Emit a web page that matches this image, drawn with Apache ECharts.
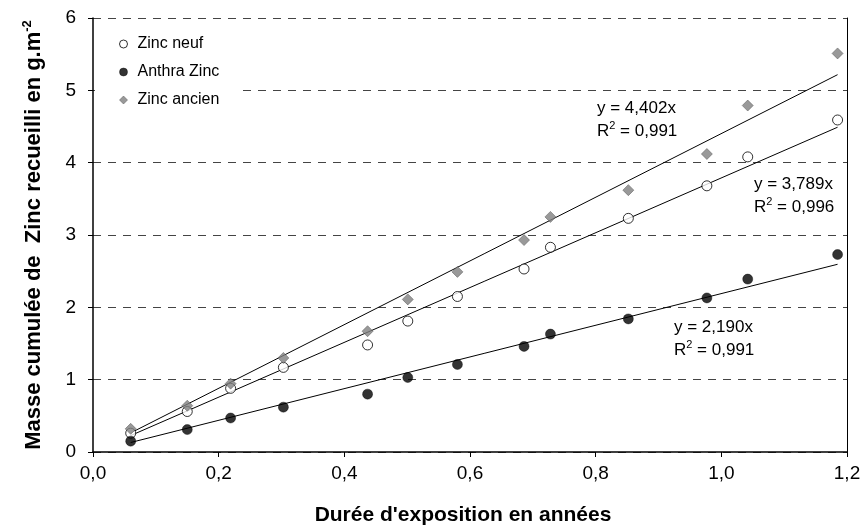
<!DOCTYPE html>
<html>
<head>
<meta charset="utf-8">
<script src="https://cdn.jsdelivr.net/npm/echarts@6/dist/echarts.min.js"></script>
<style>html,body{margin:0;padding:0;background:#fff}#c{width:863px;height:527px}</style>
</head>
<body>
<div id="c"></div>
<script>
// Data
var durations = [0.06, 0.15, 0.219, 0.303, 0.437, 0.501, 0.580, 0.686, 0.728, 0.852, 0.977, 1.042, 1.185];
var zincNeuf   = [0.26, 0.56, 0.88, 1.17, 1.48, 1.81, 2.15, 2.53, 2.83, 3.23, 3.68, 4.08, 4.59];
var anthraZinc = [0.15, 0.31, 0.47, 0.62, 0.80, 1.03, 1.21, 1.46, 1.63, 1.84, 2.13, 2.39, 2.73];
var zincAncien = [0.32, 0.64, 0.945, 1.30, 1.67, 2.11, 2.49, 2.93, 3.25, 3.62, 4.12, 4.79, 5.51];
var seriesNames = ['Zinc neuf', 'Anthra Zinc', 'Zinc ancien'];
var slopes = [3.789, 2.190, 4.402];
var slopeLabels = ['3,789', '2,190', '4,402'];
var r2Labels = ['0,996', '0,991', '0,991'];
var yTicks = [0, 1, 2, 3, 4, 5, 6];

var FONT = 'Liberation Sans, Arial, sans-serif';
function pts(ys) { return durations.map(function (x, i) { return [x, ys[i]]; }); }
function trend(k) {
  var x0 = durations[0], x1 = durations[durations.length - 1];
  return [[x0, k * x0], [x1, k * x1]];
}
var styles = [
  { symbol: 'circle', symbolSize: 10, itemStyle: { color: '#ffffff', borderColor: '#000', borderWidth: 1 } },
  { symbol: 'circle', symbolSize: 10, itemStyle: { color: '#000000', borderColor: '#000', borderWidth: 0.5 } },
  { symbol: 'diamond', symbolSize: 11, itemStyle: { color: '#808080', borderColor: '#505050', borderWidth: 0.6 } }
];
var values = [zincNeuf, anthraZinc, zincAncien];

var series = [];
for (var i = 0; i < 3; i++) {
  series.push({
    name: 'trend' + i, type: 'line', data: trend(slopes[i]), symbol: 'none',
    lineStyle: { color: '#000', width: 1 }, silent: true, z: 2, animation: false
  });
}
for (var j = 0; j < 3; j++) {
  series.push({
    name: seriesNames[j], type: 'scatter', data: pts(values[j]),
    symbol: styles[j].symbol, symbolSize: styles[j].symbolSize, itemStyle: styles[j].itemStyle,
    z: 3, animation: false
  });
}

function eqText(k, r2) {
  return '{n|y = ' + k + 'x}\n{n|R}{s|2}{n| = ' + r2 + '}';
}
var richStyle = {
  n: { fontSize: 17, fontFamily: FONT, color: '#000', lineHeight: 23 },
  s: { fontSize: 11, fontFamily: FONT, color: '#000', verticalAlign: 'top', lineHeight: 23, padding: [0, 0, 8, 0] }
};
// annotation anchors (left/top, pixels)
var annPos = [[754, 176], [674, 319], [597, 100]];
var graphics = [];
for (var a = 0; a < 3; a++) {
  graphics.push({
    type: 'text', left: annPos[a][0], top: annPos[a][1], z: 10,
    style: { text: eqText(slopeLabels[a], r2Labels[a]), rich: richStyle, fill: '#000' }
  });
}

var chart = echarts.init(document.getElementById('c'), null, { renderer: 'canvas' });
chart.setOption({
  backgroundColor: '#fff',
  animation: false,
  grid: { left: 93, right: 16, top: 18, bottom: 75, containLabel: false, outerBoundsMode: 'none' },
  legend: {
    data: seriesNames.map(function (n, idx) {
      return { name: n, icon: styles[idx].symbol, itemStyle: styles[idx].itemStyle };
    }),
    orient: 'vertical', left: 95, top: 28,
    padding: [8, 20, 6, 24], itemGap: 12, itemWidth: 8, itemHeight: 8,
    backgroundColor: '#fff',
    textStyle: { fontFamily: FONT, fontSize: 16, color: '#000', padding: [0, 0, 0, 5] },
    selectedMode: false
  },
  xAxis: {
    type: 'value', min: 0, max: 1.2, interval: 0.2,
    name: "Durée d'exposition en années", nameLocation: 'middle', nameGap: 53,
    nameTextStyle: { fontFamily: FONT, fontSize: 21, fontWeight: 'bold', color: '#000', padding: [0, 14, 0, 0] },
    axisLine: { lineStyle: { color: '#000', width: 1.5 } },
    axisTick: { show: true, inside: false, length: 5, lineStyle: { color: '#000' } },
    axisLabel: {
      fontFamily: FONT, fontSize: 19, color: '#000', margin: 12,
      formatter: function (v) { return v.toFixed(1).replace('.', ','); }
    },
    splitLine: { show: false }
  },
  yAxis: [{
    type: 'value', min: yTicks[0], max: yTicks[yTicks.length - 1], interval: 1,
    name: '{a|Masse cumulée de  Zinc recueilli en g.m}{s|-2}', nameLocation: 'middle', nameGap: 46,
    nameTextStyle: {
      rich: {
        a: { fontFamily: FONT, fontSize: 22, fontWeight: 'bold', color: '#000', lineHeight: 26 },
        s: { fontFamily: FONT, fontSize: 13, fontWeight: 'bold', color: '#000', verticalAlign: 'top', lineHeight: 26, padding: [0, 0, 10, 0] }
      }
    },
    axisLine: { show: true, lineStyle: { color: '#000', width: 1.5 } },
    axisTick: { show: true, inside: false, length: 5, lineStyle: { color: '#000' } },
    axisLabel: { fontFamily: FONT, fontSize: 19, color: '#000', margin: 17 },
    splitLine: { show: true, lineStyle: { color: '#444', width: 1, type: [8, 7] } }
  }, {
    type: 'value', position: 'right', min: 0, max: 6, interval: 1,
    axisLine: { show: true, lineStyle: { color: '#000', width: 1 } },
    axisTick: { show: false }, axisLabel: { show: false }, splitLine: { show: false }
  }],
  series: series,
  graphic: graphics
});
</script>
</body>
</html>
